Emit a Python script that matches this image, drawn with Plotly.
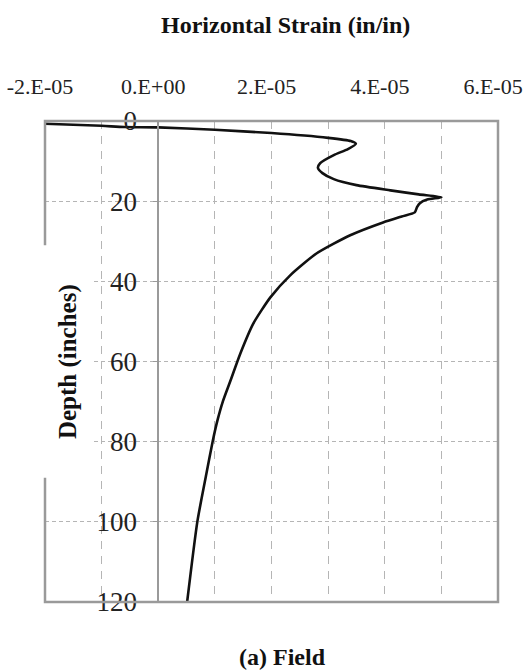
import plotly.graph_objects as go

# Data (depth in inches, horizontal strain in in/in)
depth = [0.7, 1.2, 1.5, 1.6, 2.2, 3.0, 4.2, 5.0, 5.7, 7.0, 8.5, 10.5, 11.7, 13.0, 14.5,
         16.0, 17.3, 18.3, 19.0, 19.6, 20.5, 21.5, 22.8, 23.8, 25.3, 28.5, 33.0, 38.5,
         44.0, 50.5, 58.0, 65.0, 70.0, 75.0, 80.0, 88.0, 100.0, 120.0]
strain = [-2.0e-5, -1.0e-5, -0.6e-5, 0.0, 1.0e-5, 2.0e-5, 3.0e-5, 3.4e-5, 3.49e-5, 3.35e-5,
          3.1e-5, 2.86e-5, 2.82e-5, 2.9e-5, 3.1e-5, 3.5e-5, 4.1e-5, 4.6e-5, 5.0e-5, 4.75e-5,
          4.62e-5, 4.57e-5, 4.53e-5, 4.3e-5, 3.97e-5, 3.39e-5, 2.8e-5, 2.33e-5, 1.98e-5,
          1.68e-5, 1.45e-5, 1.27e-5, 1.14e-5, 1.04e-5, 0.96e-5, 0.85e-5, 0.69e-5, 0.51e-5]

x_tickvals = [-2e-5, 0, 2e-5, 4e-5, 6e-5]
x_ticktext = ["-2.E-05", "0.E+00", "2.E-05", "4.E-05", "6.E-05"]
y_tickvals = [0, 20, 40, 60, 80, 100, 120]

FONT = "Liberation Serif"
GRID = "#b5b5b5"
BORDER = "#9a9a9a"

fig = go.Figure()
fig.add_trace(go.Scatter(x=strain, y=depth, mode="lines",
                         line=dict(color="#111111", width=2.6, shape="spline", smoothing=0.6),
                         showlegend=False, cliponaxis=True))

fig.update_layout(
    width=529, height=671,
    margin=dict(l=45, r=31, t=121, b=69),
    paper_bgcolor="white", plot_bgcolor="white",
    font=dict(family=FONT, color="#111111"),
    xaxis=dict(range=[-2e-5, 6e-5], side="top", tickvals=x_tickvals, ticktext=x_ticktext,
               tickfont=dict(size=22, family=FONT, color="#222"),
               ticks="", ticklabelstandoff=22, ticklabelshift=-5, automargin=False,
               showgrid=True, gridcolor=GRID, griddash="8px,7px", gridwidth=1,
               minor=dict(dtick=1e-5, showgrid=True, gridcolor=GRID, griddash="8px,7px", gridwidth=1),
               zeroline=False, showline=False),
    yaxis=dict(range=[120, 0], tickvals=y_tickvals, anchor="free", position=0.25,
               tickfont=dict(size=27, family=FONT, color="#222"), automargin=False,
               ticks="outside", ticklen=5, tickcolor=BORDER, ticklabelstandoff=10,
               showgrid=True, gridcolor=GRID, griddash="4px,3px", gridwidth=1.3,
               zeroline=False, showline=True, linecolor=BORDER, linewidth=1.5),
)

# frame
fig.add_shape(type="rect", xref="paper", yref="paper", x0=0, x1=1, y0=0, y1=1,
              line=dict(color=BORDER, width=2.5), layer="above")
# white panel behind the y-axis title interrupting the left frame
fig.add_shape(type="rect", xref="paper", yref="y", x0=-0.01, x1=0.104, y0=31, y1=89,
              fillcolor="white", line=dict(width=0), layer="above")

fig.add_annotation(text="<b>Horizontal Strain (in/in)</b>", xref="paper", yref="paper",
                   x=0.53, y=1.2, xanchor="center", yanchor="middle", showarrow=False,
                   font=dict(size=24, family=FONT, color="#111"))
fig.add_annotation(text="<b>Depth (inches)</b>", xref="paper", yref="paper", textangle=-90,
                   x=0.051, y=0.499, xanchor="center", yanchor="middle", showarrow=False,
                   font=dict(size=25, family=FONT, color="#111"))
fig.add_annotation(text="<b>(a) Field</b>", xref="paper", yref="paper",
                   x=0.525, y=-0.114, xanchor="center", yanchor="middle", showarrow=False,
                   font=dict(size=24, family=FONT, color="#111"))

fig.write_html("out.html")
